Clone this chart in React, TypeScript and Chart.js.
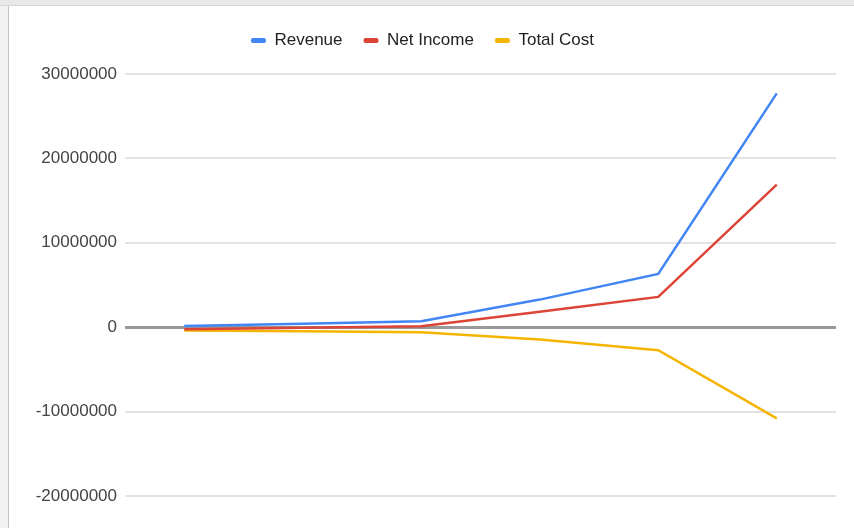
import React, { useEffect, useRef } from "react";
import { Chart, registerables } from "chart.js";

Chart.register(...registerables);

const categories = ["Year 1", "Year 2", "Year 3", "Year 4", "Year 5", "Year 6"];
const revenue = [150000, 400000, 710000, 3270000, 6310000, 27700000];
const netIncome = [-250000, -70000, 110000, 1820000, 3590000, 16900000];
const totalCost = [-400000, -470000, -600000, -1450000, -2720000, -10800000];
const yTicks = [-20000000, -10000000, 0, 10000000, 20000000, 30000000];

const COLORS = ["#4285F4", "#DB4437", "#F4B400"];
const FONT = "'Liberation Sans', Arial, sans-serif";

const legendMargin = {
  id: "legendMargin",
  beforeInit(chart: any) {
    const fit = chart.legend.fit;
    chart.legend.fit = function () {
      fit.bind(chart.legend)();
      this.height += 15;
    };
  },
};

export default function App() {
  const ref = useRef<HTMLCanvasElement | null>(null);
  useEffect(() => {
    if (!ref.current) return;
    const names = ["Revenue", "Net Income", "Total Cost"];
    const series = [revenue, netIncome, totalCost];
    const chart = new Chart(ref.current, {
      type: "line",
      data: {
        labels: categories,
        datasets: series.map((d, i) => ({
          label: names[i],
          data: d,
          borderColor: COLORS[i],
          backgroundColor: COLORS[i],
          borderWidth: 2.5,
          pointRadius: 0,
          tension: 0,
        })),
      },
      options: {
        animation: false,
        responsive: false,
        layout: { padding: { top: 5, right: 18, bottom: 24, left: 0 } },
        plugins: {
          tooltip: { enabled: false },
          legend: {
            position: "top",
            labels: {
              font: { family: FONT, size: 17 },
              color: "#222",
              boxWidth: 15,
              boxHeight: 5,
              padding: 21,
              generateLabels: (c: any) =>
                c.data.datasets.map((ds: any, i: number) => ({
                  text: ds.label,
                  fillStyle: COLORS[i],
                  strokeStyle: COLORS[i],
                  lineWidth: 0,
                  borderRadius: 2,
                  datasetIndex: i,
                  fontColor: "#222",
                })),
            },
          },
        },
        scales: {
          x: {
            offset: true,
            ticks: { display: false },
            grid: { display: false },
            border: { display: false },
          },
          y: {
            min: -20000000,
            max: 30000000,
            afterFit: (s: any) => {
              s.width = 116;
            },
            afterBuildTicks: (s: any) => {
              s.ticks = yTicks.map((v) => ({ value: v }));
            },
            ticks: {
              font: { family: FONT, size: 17 },
              color: "#444",
              padding: 8,
              callback: (v: any) => String(v),
            },
            grid: {
              drawTicks: false,
              color: (ctx: any) => (ctx.tick && ctx.tick.value === 0 ? "#9a9a9a" : "#e3e3e3"),
              lineWidth: (ctx: any) => (ctx.tick && ctx.tick.value === 0 ? 3 : 2),
            },
            border: { display: false },
          },
        },
      },
      plugins: [legendMargin],
    });
    return () => chart.destroy();
  }, []);

  return (
    <div style={{ position: "fixed", left: 0, top: 0, width: 854, height: 528, background: "#fff", overflow: "hidden" }}>
      <div style={{ position: "absolute", left: 0, top: 0, width: 8, height: 528, background: "#f1f1f1" }} />
      <div style={{ position: "absolute", left: 8, top: 0, width: 1, height: 528, background: "#c4c4c4" }} />
      <div style={{ position: "absolute", left: 0, top: 0, width: 854, height: 5, background: "#e8e8e8", borderBottom: "1px solid #d6d6d6" }} />
      <canvas ref={ref} width={845} height={522} style={{ position: "absolute", left: 9, top: 6, width: 845, height: 522 }} />
    </div>
  );
}
